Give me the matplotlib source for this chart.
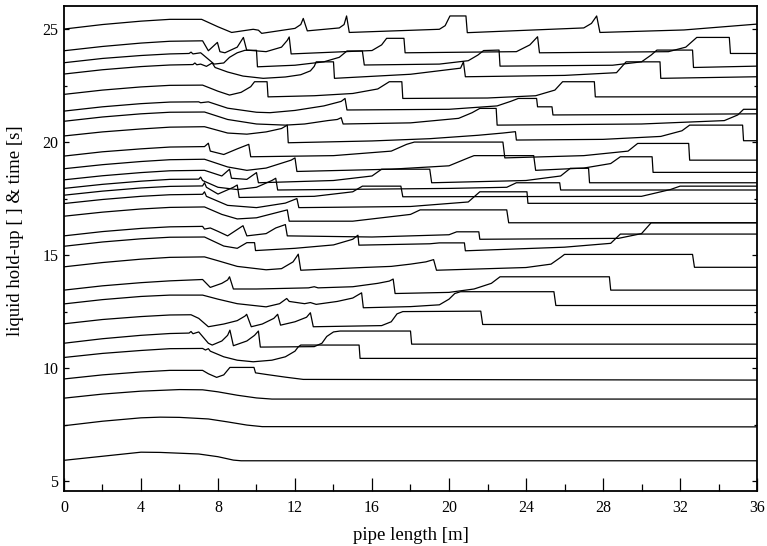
import matplotlib
matplotlib.use("Agg")
import matplotlib.pyplot as plt
from matplotlib.ticker import MultipleLocator

# Liquid hold-up profiles along the pipe, each shifted by its time level.
c01_x = [0, 2, 4, 5.5, 7.15, 8.0, 8.71, 9.83, 10.1, 10.27, 12.0, 12.3, 12.43, 12.64, 14.3, 14.55, 14.68, 14.82, 19.5, 19.8, 20.05, 20.88, 20.95, 27.0, 27.4, 27.67, 27.84, 32.2, 36]
c01_y = [25.0, 25.2, 25.35, 25.43, 25.43, 25.1, 24.85, 24.99, 24.95, 24.81, 25.03, 25.2, 25.47, 24.92, 25.05, 25.2, 25.58, 24.85, 24.99, 25.15, 25.58, 25.58, 24.84, 25.05, 25.25, 25.58, 24.85, 24.96, 25.22]

c02_x = [0, 2, 4, 5.5, 7.2, 7.5, 7.97, 8.1, 8.36, 9.0, 9.32, 9.49, 10.5, 11.3, 11.6, 11.7, 11.8, 16.0, 16.5, 16.76, 17.66, 17.72, 23.5, 24.2, 24.6, 24.7, 31.4, 32.3, 32.87, 34.56, 34.62, 36]
c02_y = [24.04, 24.23, 24.38, 24.46, 24.48, 24.04, 24.41, 24.0, 23.95, 24.2, 24.63, 24.07, 24.0, 24.2, 24.5, 24.65, 23.9, 24.05, 24.3, 24.59, 24.59, 23.95, 24.0, 24.3, 24.66, 23.95, 24.0, 24.2, 24.63, 24.63, 23.92, 23.92]

c03_x = [0, 2, 4, 5.5, 6.5, 6.6, 6.7, 7.1, 7.2, 7.8, 8.3, 8.6, 9.0, 9.4, 10.0, 10.05, 12, 13.5, 14.3, 14.7, 15.5, 15.6, 19.5, 21.0, 21.5, 21.8, 22.6, 22.65, 28.5, 30.0, 30.5, 30.8, 32.65, 32.7, 36]
c03_y = [23.51, 23.7, 23.83, 23.9, 23.92, 23.98, 23.9, 23.95, 23.88, 23.45, 23.5, 23.75, 23.95, 24.06, 24.06, 23.33, 23.4, 23.55, 23.75, 24.03, 24.03, 23.41, 23.45, 23.6, 23.85, 24.05, 24.07, 23.36, 23.4, 23.55, 23.85, 24.07, 24.07, 23.3, 23.36]

c04_x = [0, 2, 4, 5.5, 6.7, 6.8, 6.9, 7.1, 7.4, 7.7, 7.85, 8.5, 9.3, 10.35, 11.5, 12.3, 12.8, 13.0, 13.1, 14.0, 14.05, 18, 20.6, 20.75, 20.85, 26, 28.7, 29.2, 30.96, 31.0, 36]
c04_y = [23.01, 23.2, 23.34, 23.41, 23.43, 23.5, 23.42, 23.45, 23.35, 23.5, 23.3, 23.1, 22.92, 22.82, 22.88, 22.98, 23.15, 23.35, 23.55, 23.55, 22.82, 23.0, 23.27, 23.55, 22.89, 22.95, 23.07, 23.55, 23.55, 22.82, 22.89]

c05_x = [0, 2, 4, 5.5, 7.2, 8.0, 8.6, 9.2, 9.7, 9.9, 10.55, 10.6, 13, 15, 16.3, 16.9, 17.55, 17.6, 22, 24.5, 25.5, 25.9, 27.55, 27.6, 36]
c05_y = [22.11, 22.3, 22.44, 22.51, 22.52, 22.25, 22.08, 22.2, 22.45, 22.67, 22.67, 22.0, 22.05, 22.15, 22.35, 22.67, 22.67, 21.93, 21.95, 22.05, 22.3, 22.67, 22.67, 22.0, 22.0]

c06_x = [0, 2, 4, 5.5, 7.0, 7.1, 7.5, 8.5, 10, 10.7, 12, 13.5, 14.4, 14.6, 14.7, 20, 22.5, 23.2, 23.6, 24.55, 24.6, 25.35, 25.4, 30, 36]
c06_y = [21.37, 21.56, 21.7, 21.77, 21.78, 21.74, 21.78, 21.5, 21.32, 21.3, 21.4, 21.6, 21.8, 21.93, 21.42, 21.45, 21.6, 21.8, 21.93, 21.93, 21.56, 21.56, 21.2, 21.22, 21.25]

c07_x = [0, 2, 4, 5.5, 7.3, 8.5, 10, 11.5, 12.5, 13.7, 14.2, 14.4, 14.5, 18, 20.5, 21.2, 21.6, 22.45, 22.5, 30, 34.3, 35.0, 35.3, 36]
c07_y = [20.92, 21.11, 21.25, 21.32, 21.33, 21.0, 20.8, 20.75, 20.8, 20.95, 21.0, 21.08, 20.8, 20.85, 21.05, 21.3, 21.49, 21.49, 20.75, 20.8, 20.95, 21.2, 21.45, 21.45]

c08_x = [0, 2, 4, 5.5, 7.3, 8.5, 9.5, 10.5, 11.3, 11.6, 11.65, 16, 19, 21.5, 22.8, 23.45, 23.5, 28, 31, 32.1, 32.5, 35.25, 35.3, 36]
c08_y = [20.27, 20.45, 20.58, 20.66, 20.68, 20.4, 20.35, 20.45, 20.6, 20.75, 19.97, 20.05, 20.15, 20.3, 20.4, 20.46, 20.09, 20.12, 20.25, 20.5, 20.75, 20.75, 20.06, 20.06]

c09_x = [0, 2, 4, 5.5, 7.3, 7.5, 7.6, 8.3, 9.0, 9.6, 9.7, 14, 17, 17.8, 18.2, 22.8, 22.9, 27, 29.3, 29.8, 32.45, 32.5, 36]
c09_y = [19.38, 19.57, 19.7, 19.78, 19.8, 19.95, 19.6, 19.45, 19.7, 19.9, 19.35, 19.4, 19.6, 19.9, 20.0, 20.0, 19.3, 19.4, 19.6, 19.94, 19.94, 19.2, 19.2]

c10_x = [0, 2, 4, 5.5, 7.3, 8.5, 9.5, 10.5, 11.8, 12.0, 12.1, 17, 20, 21, 21.3, 24.4, 24.5, 27, 28.4, 28.9, 30.55, 30.6, 36]
c10_y = [18.82, 19.0, 19.14, 19.22, 19.24, 18.9, 18.75, 18.85, 19.2, 19.3, 18.7, 18.8, 18.95, 19.3, 19.4, 19.4, 18.75, 18.85, 19.05, 19.35, 19.35, 18.66, 18.66]

c11_x = [0, 2, 4, 5.5, 7.3, 8.2, 8.6, 8.7, 9.5, 10.0, 10.1, 14, 16, 16.5, 19, 19.1, 24, 25.8, 26.3, 27.25, 27.3, 36]
c11_y = [18.33, 18.51, 18.65, 18.73, 18.75, 18.5, 18.8, 18.4, 18.35, 18.65, 18.2, 18.3, 18.5, 18.8, 18.8, 18.2, 18.3, 18.5, 18.84, 18.84, 18.2, 18.2]

c12_x = [0, 2, 4, 5.5, 7.0, 7.1, 7.2, 8, 9, 10, 10.8, 11.0, 11.1, 20, 23, 23.5, 25.75, 25.8, 36]
c12_y = [17.95, 18.13, 18.27, 18.35, 18.36, 18.45, 18.3, 18.0, 17.9, 18.0, 18.3, 18.4, 17.88, 17.95, 18.0, 18.2, 18.2, 17.88, 17.88]

c13_x = [0, 2, 4, 5.5, 7.2, 7.3, 7.4, 8.0, 8.8, 9.0, 9.1, 13, 15, 15.5, 17.5, 17.6, 30, 31.5, 32, 36]
c13_y = [17.65, 17.83, 17.97, 18.04, 18.06, 18.2, 18.0, 17.7, 18.0, 18.1, 17.55, 17.6, 17.8, 18.05, 18.05, 17.58, 17.6, 17.9, 18.05, 18.05]

c14_x = [0, 2, 4, 5.5, 7.2, 7.3, 7.4, 8.5, 10, 11.5, 12.1, 12.2, 18, 21, 21.6, 24.05, 24.1, 36]
c14_y = [17.28, 17.46, 17.6, 17.67, 17.69, 17.8, 17.6, 17.2, 17.1, 17.3, 17.5, 17.1, 17.15, 17.35, 17.8, 17.8, 17.29, 17.29]

c15_x = [0, 2, 4, 5.5, 7.3, 8.2, 9.0, 10, 11.6, 11.7, 15, 18, 18.5, 23, 23.1, 36]
c15_y = [16.72, 16.9, 17.04, 17.11, 17.13, 16.8, 16.6, 16.65, 17.0, 16.5, 16.5, 16.8, 17.0, 17.0, 16.43, 16.43]

c16_x = [0, 2, 4, 5.5, 7.2, 7.3, 7.6, 8.0, 8.5, 9.3, 9.5, 10.5, 11.0, 11.5, 11.6, 16, 20.0, 20.4, 21.55, 21.6, 28.8, 30.0, 30.5, 36]
c16_y = [15.85, 16.04, 16.18, 16.25, 16.27, 16.15, 16.2, 16.05, 15.85, 16.3, 15.85, 15.95, 16.2, 16.35, 15.85, 15.8, 15.9, 16.03, 16.03, 15.7, 15.74, 15.95, 16.43, 16.43]

c17_x = [0, 2, 4, 5.5, 7.3, 8.3, 9.0, 9.5, 9.9, 9.95, 12, 14, 15.0, 15.27, 15.32, 19, 19.5, 20.8, 20.85, 26, 28.4, 28.9, 36]
c17_y = [15.39, 15.58, 15.72, 15.79, 15.8, 15.4, 15.3, 15.55, 15.55, 15.2, 15.3, 15.45, 15.7, 15.88, 15.44, 15.5, 15.54, 15.54, 15.19, 15.35, 15.52, 15.93, 15.93]

c18_x = [0, 2, 4, 5.5, 7.3, 8.0, 9, 10.5, 11.3, 11.9, 12.1, 12.17, 12.3, 15.5, 17, 18, 18.8, 19.2, 19.35, 24, 25.3, 25.8, 26.0, 32.65, 32.75, 36]
c18_y = [14.48, 14.67, 14.82, 14.9, 14.92, 14.75, 14.5, 14.35, 14.4, 14.7, 14.95, 15.04, 14.33, 14.45, 14.5, 14.6, 14.7, 14.8, 14.33, 14.45, 14.6, 14.9, 15.03, 15.03, 14.46, 14.46]

c19_x = [0, 2, 4, 5.5, 7.2, 7.6, 8.2, 8.5, 8.6, 8.8, 10, 12.7, 13.0, 13.2, 15, 16.3, 16.9, 17.1, 17.2, 20, 21.3, 22.2, 22.65, 28.33, 28.4, 36]
c19_y = [13.45, 13.64, 13.78, 13.86, 13.92, 13.57, 13.75, 13.9, 14.04, 13.5, 13.5, 13.55, 13.6, 13.55, 13.6, 13.75, 13.85, 13.94, 13.3, 13.35, 13.5, 13.75, 14.04, 14.04, 13.45, 13.45]

c20_x = [0, 2, 4, 5.5, 7.2, 8, 9, 10.5, 11.2, 11.57, 11.7, 12.5, 12.8, 13.1, 14.2, 15.0, 15.46, 15.55, 18, 19.5, 20.0, 20.3, 20.6, 25.45, 25.55, 36]
c20_y = [12.84, 13.03, 13.17, 13.23, 13.23, 13.05, 12.85, 12.71, 12.85, 13.08, 12.95, 12.85, 12.9, 12.82, 12.95, 13.1, 13.33, 12.67, 12.72, 12.8, 13.05, 13.3, 13.38, 13.38, 12.77, 12.77]

c21_x = [0, 2, 4, 5.5, 6.6, 7.0, 7.5, 8.3, 9.0, 9.4, 9.49, 9.73, 10.3, 10.9, 11.1, 11.25, 12.0, 12.6, 12.8, 12.95, 16.5, 17.0, 17.3, 17.6, 21.65, 21.75, 36]
c21_y = [11.96, 12.15, 12.28, 12.35, 12.36, 12.2, 11.83, 11.95, 12.1, 12.3, 12.38, 11.83, 11.95, 12.2, 12.38, 11.9, 12.05, 12.25, 12.45, 11.83, 11.88, 12.05, 12.4, 12.5, 12.52, 11.93, 11.93]

c22_x = [0, 2, 4, 5.5, 6.5, 6.6, 6.7, 7.0, 7.1, 7.5, 7.7, 8.2, 8.5, 8.62, 8.8, 9.5, 9.9, 10.1, 10.2, 13.0, 13.4, 13.65, 14.0, 14.34, 18.0, 18.06, 36]
c22_y = [11.10, 11.3, 11.45, 11.53, 11.55, 11.62, 11.52, 11.6, 11.5, 11.1, 11.02, 11.2, 11.45, 11.68, 10.99, 11.2, 11.45, 11.64, 10.93, 10.95, 11.1, 11.4, 11.6, 11.64, 11.64, 11.06, 11.06]

c23_x = [0, 2, 4, 5.5, 7.2, 7.35, 7.5, 7.6, 8.3, 9.0, 9.83, 10.8, 11.5, 12.0, 12.17, 12.3, 15.33, 15.38, 36]
c23_y = [10.47, 10.65, 10.78, 10.86, 10.87, 10.8, 10.86, 10.75, 10.5, 10.35, 10.28, 10.35, 10.5, 10.75, 10.94, 11.02, 11.02, 10.43, 10.43]

c24_x = [0, 2, 4, 5.5, 7.2, 7.5, 7.93, 8.3, 8.62, 9.87, 9.95, 10.5, 11.5, 12.43, 36]
c24_y = [9.52, 9.7, 9.83, 9.9, 9.9, 9.75, 9.59, 9.7, 10.03, 10.03, 9.79, 9.72, 9.6, 9.50, 9.47]

c25_x = [0, 2, 4, 6, 7.2, 8, 9, 10, 10.8, 36]
c25_y = [8.67, 8.85, 8.98, 9.05, 9.04, 8.95, 8.8, 8.68, 8.63, 8.63]

c26_x = [0, 2, 4, 5, 6, 7.5, 8.5, 9.5, 10.3, 36]
c26_y = [7.45, 7.65, 7.8, 7.83, 7.82, 7.75, 7.62, 7.48, 7.41, 7.40]

c27_x = [0, 2, 4, 5, 7, 8, 8.8, 9.2, 36]
c27_y = [5.92, 6.1, 6.28, 6.27, 6.2, 6.08, 5.93, 5.9, 5.9]

profiles = [
    (c01_x, c01_y), (c02_x, c02_y), (c03_x, c03_y), (c04_x, c04_y),
    (c05_x, c05_y), (c06_x, c06_y), (c07_x, c07_y), (c08_x, c08_y),
    (c09_x, c09_y), (c10_x, c10_y), (c11_x, c11_y), (c12_x, c12_y),
    (c13_x, c13_y), (c14_x, c14_y), (c15_x, c15_y), (c16_x, c16_y),
    (c17_x, c17_y), (c18_x, c18_y), (c19_x, c19_y), (c20_x, c20_y),
    (c21_x, c21_y), (c22_x, c22_y), (c23_x, c23_y), (c24_x, c24_y),
    (c25_x, c25_y), (c26_x, c26_y), (c27_x, c27_y),
]

x_ticks = [0, 4, 8, 12, 16, 20, 24, 28, 32, 36]
y_ticks = [5, 10, 15, 20, 25]

plt.rcParams['font.family'] = ['Liberation Serif', 'DejaVu Serif']

fig = plt.figure(figsize=(7.67, 5.46), dpi=100)
ax = fig.add_axes([0.0834, 0.1002, 0.9036, 0.8888])

for px, py in profiles:
    ax.plot(px, py, color='black', lw=0.9, solid_joinstyle='round')

ax.set_xlim(0, 36)
ax.set_ylim(4.55, 26.02)
ax.set_xticks(x_ticks)
ax.set_yticks(y_ticks)
ax.xaxis.set_minor_locator(MultipleLocator(2))
ax.yaxis.set_minor_locator(MultipleLocator(2.5))

ax.tick_params(axis='x', which='major', direction='in', length=9.5, width=0.9,
               labelsize=11.5, pad=6, top=False)
ax.tick_params(axis='x', which='minor', direction='in', length=5, width=0.9, top=False)
ax.tick_params(axis='y', which='major', direction='in', length=3.5, width=0.9,
               labelsize=11.5, pad=4, right=True)
ax.tick_params(axis='y', which='minor', direction='in', length=2.5, width=0.9, right=True)

for side in ax.spines.values():
    side.set_linewidth(1.3)

ax.set_xlabel('pipe length [m]', fontsize=13.5, labelpad=8)
ax.set_ylabel('liquid hold-up [ ] & time [s]', fontsize=13.5)
ax.yaxis.set_label_coords(-0.058, 0.538)

fig.savefig('out.png', dpi=100)
